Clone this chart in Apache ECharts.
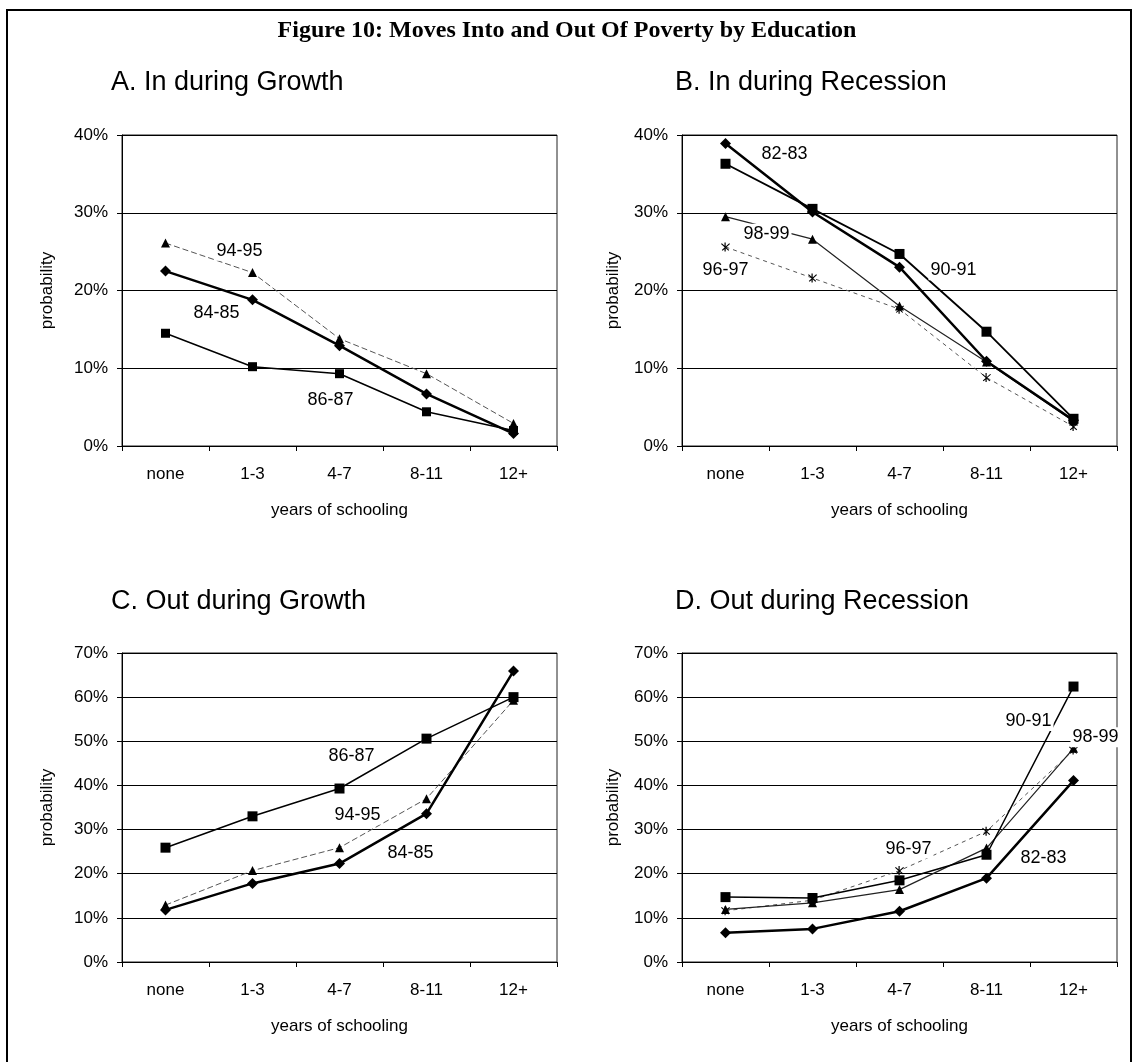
<!DOCTYPE html>
<html>
<head>
<meta charset="utf-8">
<title>Figure 10</title>
<script src="https://cdn.jsdelivr.net/npm/echarts@6/dist/echarts.min.js"></script>
<style>
  html, body { margin: 0; padding: 0; background: #fff; }
  #chart { width: 1134px; height: 1062px; }
</style>
</head>
<body>
<div id="chart"></div>
<script>
// categories and tick values
const categories = ['none', '1-3', '4-7', '8-11', '12+']
const ticksIn = [0, 10, 20, 30, 40]
const ticksOut = [0, 10, 20, 30, 40, 50, 60, 70]

// A. In during Growth (%)
const inGrowth8485 = [22.5, 18.8, 12.9, 6.7, 1.6]
const inGrowth8687 = [14.5, 10.2, 9.3, 4.4, 2.0]
const inGrowth9495 = [26.1, 22.3, 13.8, 9.3, 2.9]

// B. In during Recession (%)
const inRecession8283 = [38.9, 30.1, 23.0, 10.9, 3.3]
const inRecession9091 = [36.3, 30.5, 24.7, 14.7, 3.5]
const inRecession9899 = [29.5, 26.6, 18.0, 10.8, 3.2]
const inRecession9697 = [25.6, 21.6, 17.6, 8.8, 2.5]

// C. Out during Growth (%)
const outGrowth8687 = [25.9, 33.0, 39.3, 50.6, 60.0]
const outGrowth9495 = [12.9, 20.7, 25.9, 37.0, 59.3]
const outGrowth8485 = [11.8, 17.8, 22.3, 33.6, 65.9]

// D. Out during Recession (%)
const outRecession8283 = [6.6, 7.5, 11.5, 19.0, 41.1]
const outRecession9091 = [14.7, 14.5, 18.5, 24.3, 62.4]
const outRecession9899 = [11.9, 13.4, 16.4, 25.8, 48.4]
const outRecession9697 = [11.6, 14.0, 20.7, 29.6, 48.0]

const sans = 'Liberation Sans, Arial, sans-serif'
const narrow = 'Liberation Sans Narrow, Arial Narrow, Liberation Sans, sans-serif'
const asterisk = 'path://M4.4,0h1.2v10h-1.2z M0.9,1.7l0.8,-0.8l7.4,7.4l-0.8,0.8z M9.1,0.9l0.8,0.8l-7.4,7.4l-0.8,-0.8z'

const grids = [
  { left: 122, top: 135, width: 435, height: 311 },
  { left: 682, top: 135, width: 435, height: 311 },
  { left: 122, top: 653, width: 435, height: 309 },
  { left: 682, top: 653, width: 435, height: 309 }
]

function xAxis (i) {
  return {
    type: 'category',
    gridIndex: i,
    data: categories,
    boundaryGap: true,
    axisLine: { lineStyle: { color: '#000', width: 1 } },
    axisTick: { show: true, length: 5, lineStyle: { color: '#000' } },
    axisLabel: { color: '#000', fontSize: 17, fontFamily: sans, margin: 20 },
    splitLine: { show: false },
    name: 'years of schooling',
    nameLocation: 'middle',
    nameGap: 56,
    nameTextStyle: { color: '#000', fontSize: 17, fontFamily: sans }
  }
}

function yAxis (i, ticks, gap) {
  return {
    type: 'value',
    gridIndex: i,
    min: ticks[0],
    max: ticks[ticks.length - 1],
    interval: 10,
    axisLine: { show: true, lineStyle: { color: '#000', width: 1 } },
    axisTick: { show: true, length: 5, lineStyle: { color: '#000' } },
    axisLabel: { color: '#000', fontSize: 17, fontFamily: sans, margin: 14, formatter: '{value}%' },
    splitLine: { show: true, lineStyle: { color: '#000', width: 1 } },
    name: 'probability',
    nameLocation: 'middle',
    nameGap: gap,
    nameTextStyle: { color: '#000', fontSize: 17, fontFamily: sans }
  }
}

// series line; spot = [category, value, dx] where its name label sits
function line (name, data, i, symbol, size, width, color, type, spot) {
  return {
    name: name,
    type: 'line',
    xAxisIndex: i,
    yAxisIndex: i,
    data: data,
    symbol: symbol,
    symbolSize: size,
    showAllSymbol: true,
    z: width > 2 ? 4 : 3,
    lineStyle: { color: color, width: width, type: type },
    itemStyle: { color: '#000', borderWidth: 0 },
    emphasis: { disabled: true },
    markPoint: {
      symbol: 'circle',
      symbolSize: 1,
      itemStyle: { color: 'rgba(0,0,0,0)' },
      z: 6,
      label: {
        show: true,
        position: 'inside',
        color: '#000',
        fontSize: 18,
        fontFamily: sans,
        backgroundColor: '#fff',
        padding: [1, 2],
        offset: [spot[2], 0],
        formatter: p => p.seriesName
      },
      data: [{ coord: [spot[0], spot[1]] }]
    }
  }
}

const chart = echarts.init(document.getElementById('chart'), null, { renderer: 'canvas' })

chart.setOption({
  backgroundColor: '#fff',
  animation: false,
  title: [
    {
      text: 'Figure 10: Moves Into and Out Of Poverty by Education',
      left: 'center',
      top: 14,
      textStyle: { fontFamily: 'Liberation Serif, Times New Roman, serif', fontWeight: 'bold', fontSize: 24, color: '#000' }
    },
    { text: 'A. In during Growth', left: 106, top: 64, textStyle: { fontFamily: narrow, fontWeight: 'normal', fontSize: 27, color: '#000' } },
    { text: 'B. In during Recession', left: 670, top: 64, textStyle: { fontFamily: narrow, fontWeight: 'normal', fontSize: 27, color: '#000' } },
    { text: 'C. Out during Growth', left: 106, top: 583, textStyle: { fontFamily: narrow, fontWeight: 'normal', fontSize: 27, color: '#000' } },
    { text: 'D. Out during Recession', left: 670, top: 583, textStyle: { fontFamily: narrow, fontWeight: 'normal', fontSize: 27, color: '#000' } }
  ],
  graphic: [
    {
      type: 'rect',
      shape: { x: 7, y: 10, width: 1124, height: 1100 },
      style: { fill: 'none', stroke: '#000', lineWidth: 2 },
      silent: true
    }
  ],
  grid: grids.map(g => Object.assign({ show: true, borderColor: '#222', borderWidth: 1, backgroundColor: 'transparent' }, g)),
  xAxis: [xAxis(0), xAxis(1), xAxis(2), xAxis(3)],
  yAxis: [yAxis(0, ticksIn, 66), yAxis(1, ticksIn, 60), yAxis(2, ticksOut, 66), yAxis(3, ticksOut, 60)],
  series: [
    line('94-95', inGrowth9495, 0, 'triangle', 9, 1, '#555', [6, 3], ['1-3', 25.1, -13]),
    line('86-87', inGrowth8687, 0, 'rect', 9, 1.5, '#000', 'solid', ['4-7', 5.9, -9]),
    line('84-85', inGrowth8485, 0, 'diamond', 11, 2.5, '#000', 'solid', ['1-3', 17.1, -36]),

    line('98-99', inRecession9899, 1, 'triangle', 9, 1.2, '#222', 'solid', ['1-3', 27.3, -46]),
    line('96-97', inRecession9697, 1, asterisk, 9, 1, '#555', [4, 4], ['none', 22.6, 0]),
    line('90-91', inRecession9091, 1, 'rect', 10, 1.8, '#000', 'solid', ['4-7', 22.6, 54]),
    line('82-83', inRecession8283, 1, 'diamond', 11, 2.5, '#000', 'solid', ['1-3', 37.5, -28]),

    line('94-95', outGrowth9495, 2, 'triangle', 9, 1, '#555', [6, 3], ['4-7', 33.4, 18]),
    line('86-87', outGrowth8687, 2, 'rect', 10, 1.5, '#000', 'solid', ['4-7', 46.6, 12]),
    line('84-85', outGrowth8485, 2, 'diamond', 11, 2.5, '#000', 'solid', ['8-11', 24.7, -16]),

    line('96-97', outRecession9697, 3, asterisk, 9, 1, '#555', [4, 4], ['4-7', 25.7, 9]),
    line('98-99', outRecession9899, 3, 'triangle', 9, 1.2, '#222', 'solid', ['12+', 50.9, 22]),
    line('90-91', outRecession9091, 3, 'rect', 10, 1.5, '#000', 'solid', ['8-11', 54.6, 42]),
    line('82-83', outRecession8283, 3, 'diamond', 11, 2.5, '#000', 'solid', ['8-11', 23.6, 57])
  ]
})
</script>
</body>
</html>
